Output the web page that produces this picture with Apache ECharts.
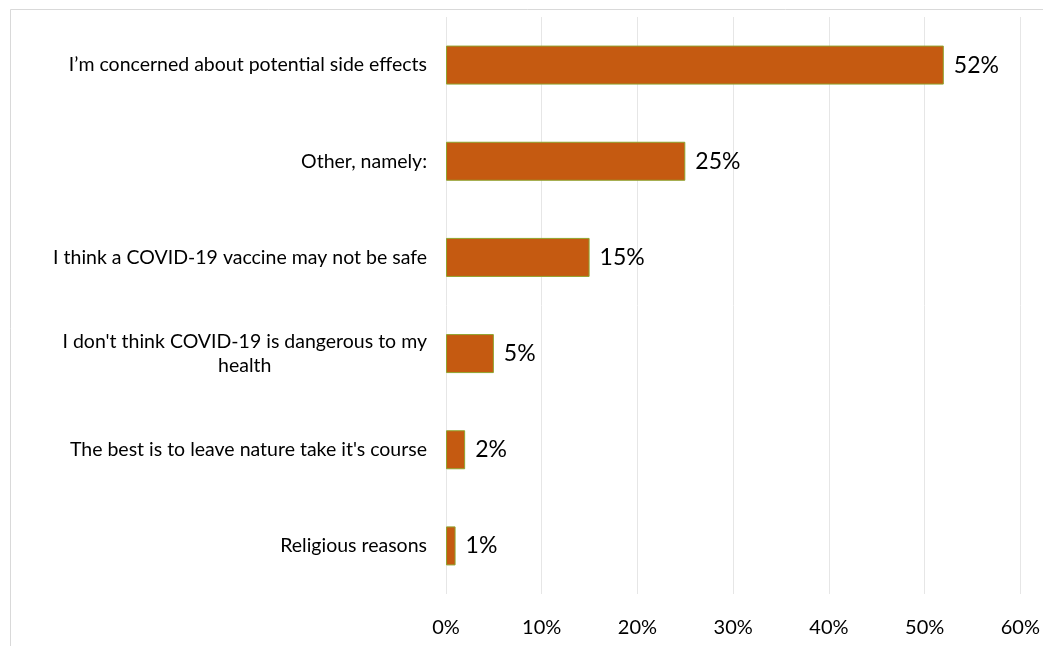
<!DOCTYPE html>
<html>
<head>
<meta charset="utf-8">
<script src="https://cdn.jsdelivr.net/npm/echarts@6/dist/echarts.min.js"></script>
<style>
  html, body { margin: 0; padding: 0; background: #fff; overflow: hidden; }
  #chart { width: 1043px; height: 646px; }
</style>
</head>
<body>
<div id="chart"></div>
<script>
// Reasons given for not wanting a COVID-19 vaccine (share of respondents, %)
const categories = [
  "I\u2019m concerned about potential side effects",
  "Other, namely:",
  "I think a COVID-19 vaccine may not be safe",
  "I don't think COVID-19 is dangerous to my health",
  "The best is to leave nature take it's course",
  "Religious reasons"
];
const shares = [52, 25, 15, 5, 2, 1];
const tickMax = 60;
const tickStep = 10;

const FONT = "Lato, 'Open Sans', sans-serif";
const labelFontSize = 19.5;

// word-wrap long category names to a fixed pixel width
const ctx = document.createElement('canvas').getContext('2d');
ctx.font = labelFontSize + 'px ' + FONT;
function wrap(text, maxW) {
  const words = text.split(' ');
  const lines = [];
  let cur = '';
  words.forEach(w => {
    const t = cur ? cur + ' ' + w : w;
    if (cur && ctx.measureText(t).width > maxW) { lines.push(cur); cur = w; }
    else cur = t;
  });
  if (cur) lines.push(cur);
  return lines.map(l => '{c|' + l + '}').join('\n');
}

const chart = echarts.init(document.getElementById('chart'), null, { renderer: 'canvas', width: 1043, height: 646 });
chart.setOption({
  backgroundColor: '#ffffff',
  animation: false,
  graphic: [{
    type: 'rect',
    shape: { x: 10.5, y: 9.5, width: 1100, height: 700 },
    style: { fill: 'none', stroke: '#d9d9d9', lineWidth: 1 },
    silent: true, z: -1
  }],
  grid: { left: 446, right: 19, top: 17, bottom: 52, containLabel: false },
  xAxis: {
    type: 'value',
    min: 0, max: tickMax, interval: tickStep,
    axisLine: { show: false },
    axisTick: { show: false },
    splitLine: { show: true, lineStyle: { color: '#e6e6e6', width: 1 } },
    axisLabel: {
      formatter: '{value}%', color: '#000', fontSize: 20, fontFamily: FONT, margin: 24
    }
  },
  yAxis: {
    type: 'category',
    inverse: true,
    data: categories,
    axisLine: { show: false },
    axisTick: { show: false },
    splitLine: { show: false },
    axisLabel: {
      margin: 19,
      formatter: v => wrap(v, 395),
      rich: { c: { fontSize: labelFontSize, fontFamily: FONT, color: '#000', align: 'center', lineHeight: 24 } }
    }
  },
  series: [{
    type: 'bar',
    data: shares,
    barWidth: 39,
    itemStyle: { color: '#c55a11', borderColor: '#8fa32e', borderWidth: 1 },
    label: {
      show: true, position: 'right', distance: 10,
      formatter: p => p.value + '%',
      color: '#000', fontSize: 23, fontFamily: FONT
    }
  }]
});
</script>
</body>
</html>
